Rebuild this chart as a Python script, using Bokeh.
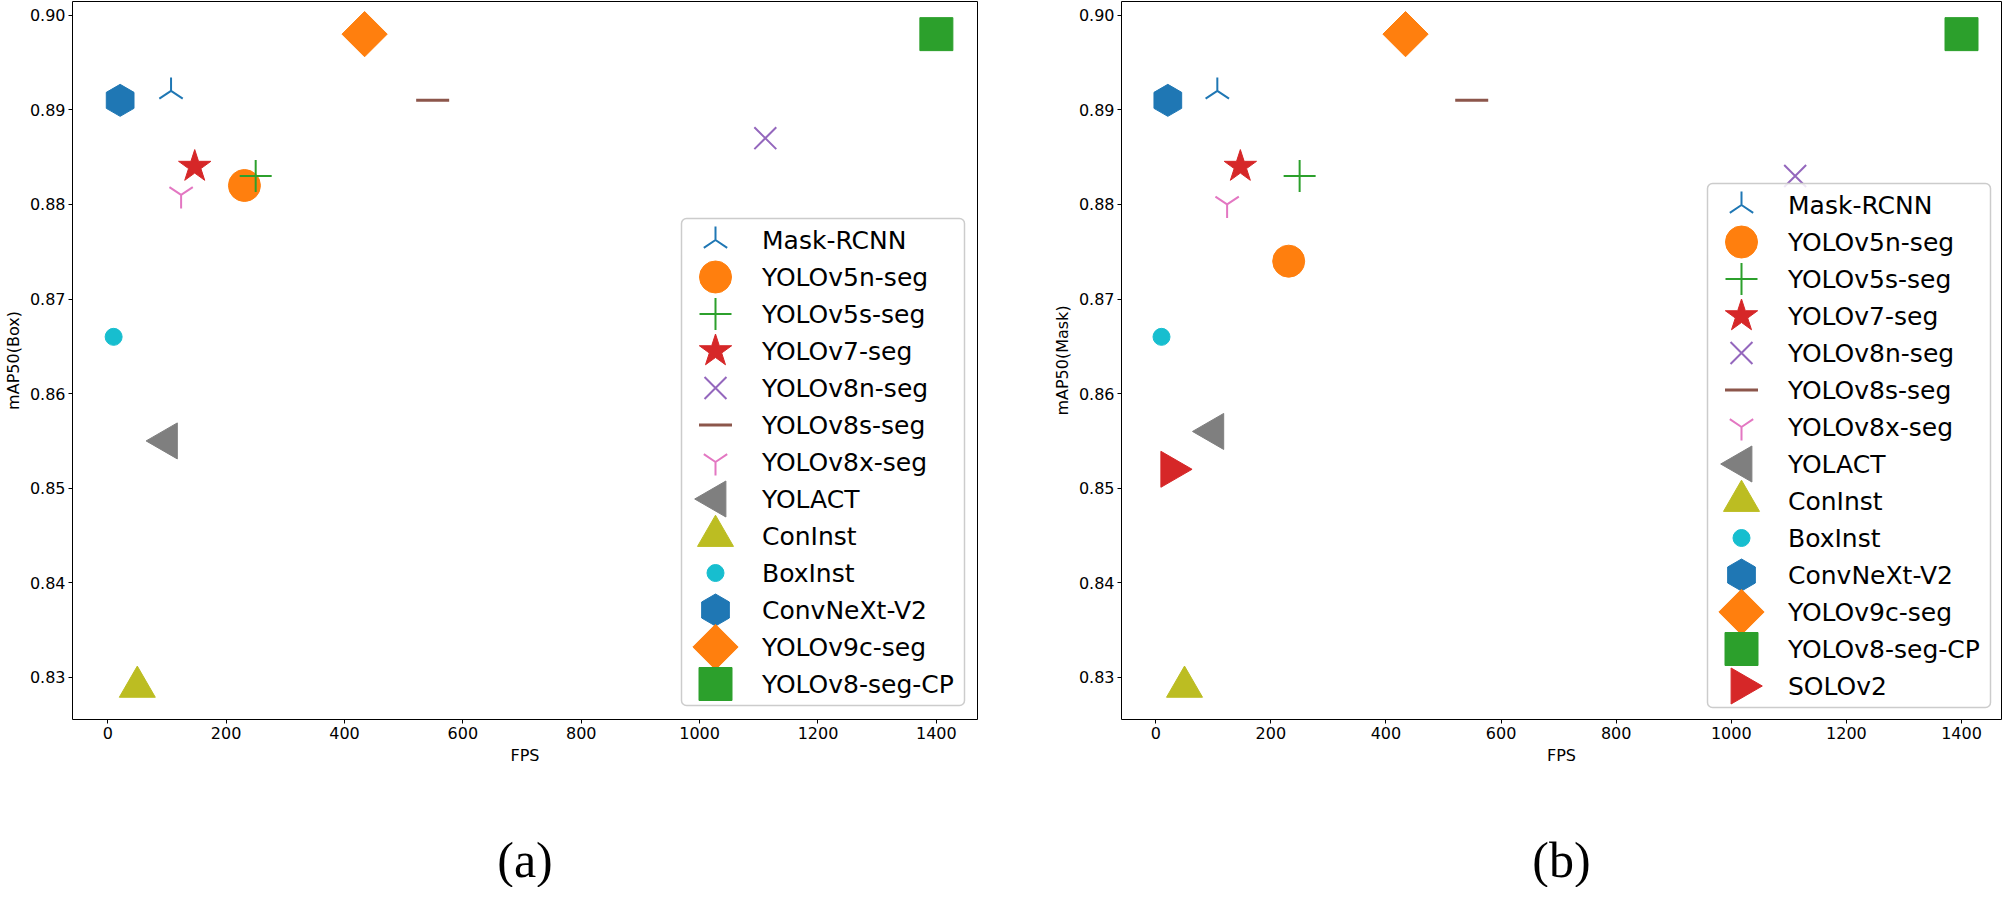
import math
from bokeh.plotting import figure
from bokeh.layouts import row
from bokeh.models import (Range1d, FixedTicker, Title, ColumnDataSource,
                          PrintfTickFormatter)
from bokeh.core.properties import value
from bokeh.embed import file_html
from bokeh.resources import INLINE

# ---------------- data ----------------
models_box = ["Mask-RCNN", "YOLOv5n-seg", "YOLOv5s-seg", "YOLOv7-seg", "YOLOv8n-seg",
              "YOLOv8s-seg", "YOLOv8x-seg", "YOLACT", "ConInst", "BoxInst",
              "ConvNeXt-V2", "YOLOv9c-seg", "YOLOv8-seg-CP"]
fps_box = [107, 231, 250, 147, 1111, 549, 124, 100, 50, 10, 21, 434, 1400]
map_box = [0.892, 0.882, 0.883, 0.884, 0.887, 0.891, 0.881, 0.855, 0.829, 0.866,
           0.891, 0.898, 0.898]

models_mask = ["Mask-RCNN", "YOLOv5n-seg", "YOLOv5s-seg", "YOLOv7-seg", "YOLOv8n-seg",
               "YOLOv8s-seg", "YOLOv8x-seg", "YOLACT", "ConInst", "BoxInst",
               "ConvNeXt-V2", "YOLOv9c-seg", "YOLOv8-seg-CP", "SOLOv2"]
fps_mask = [107, 231, 250, 147, 1111, 549, 124, 100, 50, 10, 21, 434, 1400, 27]
map_mask = [0.892, 0.874, 0.883, 0.884, 0.883, 0.891, 0.880, 0.856, 0.829, 0.866,
            0.891, 0.898, 0.898, 0.852]

x_ticks = [0, 200, 400, 600, 800, 1000, 1200, 1400]
y_ticks = [0.83, 0.84, 0.85, 0.86, 0.87, 0.88, 0.89, 0.90]

# ---------------- styles ----------------
STYLE = {
    "Mask-RCNN":     dict(marker="y", color="#1f77b4", size=27, angle=math.pi, line=True),
    "YOLOv5n-seg":   dict(marker="circle", color="#ff7f0e", size=32, angle=0, line=False),
    "YOLOv5s-seg":   dict(marker="cross", color="#2ca02c", size=32, angle=0, line=True),
    "YOLOv7-seg":    dict(marker="star", color="#d62728", size=34, angle=0, line=False),
    "YOLOv8n-seg":   dict(marker="x", color="#9467bd", size=31, angle=0, line=True),
    "YOLOv8s-seg":   dict(marker="dash", color="#8c564b", size=33, angle=0, line=True, lw=3),
    "YOLOv8x-seg":   dict(marker="y", color="#e377c2", size=27, angle=0, line=True),
    "YOLACT":        dict(marker="triangle", color="#7f7f7f", size=36, angle=math.pi / 2, line=False),
    "ConInst":       dict(marker="triangle", color="#bcbd22", size=36, angle=0, line=False),
    "BoxInst":       dict(marker="circle", color="#17becf", size=17, angle=0, line=False),
    "ConvNeXt-V2":   dict(marker="hex", color="#1f77b4", size=32, angle=math.pi / 2, line=False),
    "YOLOv9c-seg":   dict(marker="square", color="#ff7f0e", size=32, angle=math.pi / 4, line=False),
    "YOLOv8-seg-CP": dict(marker="square", color="#2ca02c", size=33, angle=0, line=False),
    "SOLOv2":        dict(marker="triangle", color="#d62728", size=36, angle=-math.pi / 2, line=False),
}

FONT = "DejaVu Sans"
FRAME_H = 718


def padded(vals, frac=0.05):
    lo, hi = min(vals), max(vals)
    d = (hi - lo) * frac
    return lo - d, hi + d


def add_marker(p, name, x, y, **kw):
    st = STYLE[name]
    src = ColumnDataSource(dict(x=[x], y=[y]))
    if st["line"]:
        return p.scatter("x", "y", source=src, marker=st["marker"], size=st["size"],
                         angle=st["angle"], line_color=st["color"],
                         line_width=st.get("lw", 2), fill_color=None, **kw)
    return p.scatter("x", "y", source=src, marker=st["marker"], size=st["size"],
                     angle=st["angle"], line_color=st["color"], line_width=1,
                     fill_color=st["color"], **kw)


def draw_legend(p, models, frame_w, margin_r, margin_b):
    n = len(models)
    box_w, pitch, first = 283, 37, 21.5
    box_h = 2 * first + (n - 1) * pitch
    right = frame_w - margin_r
    left = right - box_w
    bottom = margin_b
    top = bottom + box_h
    p.quad(left=[left], right=[right], top=[top], bottom=[bottom],
           x_range_name="px", y_range_name="px",
           fill_color="white", fill_alpha=0.85, line_color="#cccccc",
           line_width=1.5, border_radius=5)
    ys = [top - first - i * pitch for i in range(n)]
    for name, yy in zip(models, ys):
        add_marker(p, name, left + 34, yy, x_range_name="px", y_range_name="px")
    p.text(x=[left + 80.5] * n, y=ys, text=models, x_range_name="px", y_range_name="px",
           text_font=value(FONT), text_font_size="25px", text_color="black",
           text_baseline="middle", text_align="left")


def make_panel(models, fps, vals, ylabel, caption, frame_w, border_right,
               lmargin_r, lmargin_b):
    x0, x1 = padded(fps)
    y0, y1 = padded(vals)
    p = figure(frame_width=frame_w, frame_height=FRAME_H,
               output_backend="svg", toolbar_location=None,
               x_range=Range1d(x0, x1), y_range=Range1d(y0, y1),
               min_border_left=66, min_border_right=border_right,
               min_border_top=1, min_border_bottom=0)
    p.extra_x_ranges = {"px": Range1d(0, frame_w)}
    p.extra_y_ranges = {"px": Range1d(0, FRAME_H)}
    p.grid.visible = False
    p.outline_line_color = "black"
    p.outline_line_width = 1
    p.background_fill_color = "white"
    p.border_fill_color = "white"

    for ax in (p.xaxis[0], p.yaxis[0]):
        ax.axis_line_color = None
        ax.major_tick_line_color = "black"
        ax.major_tick_out = 4
        ax.major_tick_in = 0
        ax.minor_tick_line_color = None
        ax.major_label_text_font = FONT
        ax.major_label_text_font_size = "16px"
        ax.major_label_text_color = "black"
        ax.major_label_standoff = 3
        ax.axis_label_text_font = FONT
        ax.axis_label_text_font_size = "16px"
        ax.axis_label_text_font_style = "normal"
        ax.axis_label_text_color = "black"
        ax.axis_label_standoff = 4
    p.xaxis[0].ticker = FixedTicker(ticks=x_ticks)
    p.yaxis[0].ticker = FixedTicker(ticks=y_ticks)
    p.yaxis[0].formatter = PrintfTickFormatter(format="%.2f")
    p.xaxis[0].axis_label = "FPS"
    p.yaxis[0].axis_label = ylabel

    for name, fx, fy in zip(models, fps, vals):
        add_marker(p, name, fx, fy)

    draw_legend(p, models, frame_w, lmargin_r, lmargin_b)

    spacer = Title(text=" ", text_font_size="10px", standoff=49)
    p.add_layout(spacer, "below")
    cap = Title(text=caption, align="center", vertical_align="bottom",
                text_font="Liberation Serif", text_font_size="50px",
                text_font_style="normal", text_color="black", standoff=0)
    p.add_layout(cap, "below")
    return p


p1 = make_panel(models_box, fps_box, map_box, "mAP50(Box)", "(a)", 905, 72, 13, 14)
p2 = make_panel(models_mask, fps_mask, map_mask, "mAP50(Mask)", "(b)", 880, 2, 11, 12)

layout = row(p1, p2)
with open("out.html", "w") as f:
    f.write(file_html(layout, INLINE))
